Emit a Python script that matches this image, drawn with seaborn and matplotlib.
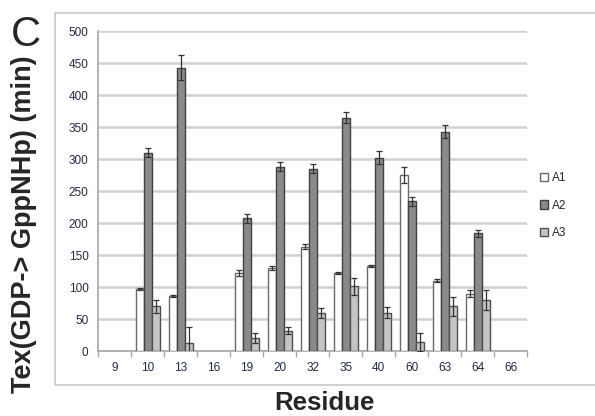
import numpy as np
import pandas as pd
import seaborn as sns
from matplotlib import pyplot as plt
from matplotlib.patches import Rectangle

sns.set_theme(style="white")
plt.rcParams['font.family'] = ['Liberation Sans', 'DejaVu Sans']

# residues shown on the axis (9, 16, 66 have no data)
residues = ['9', '10', '13', '16', '19', '20', '32', '35', '40', '60', '63', '64', '66']
measured = ['10', '13', '19', '20', '32', '35', '40', '60', '63', '64']

a1 = [97, 86, 122, 130, 163, 122, 133, 275, 110, 90]
a2 = [310, 443, 208, 288, 285, 365, 302, 234, 343, 184]
a3 = [70, 12, 20, 32, 60, 101, 60, 14, 70, 80]

a1_err = [2, 2, 5, 3, 4, 2, 2, 12, 2, 5]
a2_err = [7, 20, 7, 7, 7, 8, 10, 7, 10, 6]
a3_err = [10, 25, 8, 5, 8, 14, 9, 14, 15, 15]

series = ['A1', 'A2', 'A3']
colors = ['#ffffff', '#8a8a8a', '#c4c4c4']
edges = ['#6a6a6a', '#404040', '#505050']
tick_color = '#1f2a48'

df = pd.DataFrame({
    'Residue': measured * 3,
    'Tex': a1 + a2 + a3,
    'Series': ['A1'] * 10 + ['A2'] * 10 + ['A3'] * 10,
})
errs = [a1_err, a2_err, a3_err]

fig = plt.figure(figsize=(5.95, 4.16), dpi=100)
ax = fig.add_axes([0.165, 0.156, 0.721, 0.769])

sns.barplot(data=df, x='Residue', y='Tex', hue='Series', order=residues,
            hue_order=series, palette=colors, errorbar=None, width=0.72,
            linewidth=1.0, ax=ax, zorder=3)

bar_groups = list(ax.containers)
for i, cont in enumerate(bar_groups):
    xs, ys = [], []
    for bar in cont:
        bar.set_edgecolor(edges[i])
        xs.append(bar.get_x() + bar.get_width() / 2)
        ys.append(bar.get_height())
    ax.errorbar(xs, ys, yerr=errs[i], fmt='none', ecolor='#333333',
                elinewidth=0.9, capsize=2.5, capthick=0.9, zorder=4)

ax.set_ylim(0, 500)
ax.set_yticks(range(0, 501, 50))
ax.yaxis.grid(True, color='#d0d0d0', linewidth=1.8, zorder=0)
ax.set_axisbelow(True)
for s in ['top', 'right']:
    ax.spines[s].set_visible(False)
ax.spines['left'].set_color('#aaaaaa')
ax.spines['bottom'].set_color('#aaaaaa')
ax.tick_params(axis='y', length=0, labelsize=8.5, pad=7, labelcolor=tick_color)
ax.tick_params(axis='x', length=0, labelsize=8.5, pad=8, labelcolor=tick_color)
# minor ticks between categories, Excel style
ax.set_xticks(np.arange(-0.5, len(residues), 1.0), minor=True)
ax.tick_params(axis='x', which='minor', length=4, color='#aaaaaa', direction='out', bottom=True)
ax.set_xlim(-0.5, len(residues) - 0.5)

ax.set_xlabel('Residue', fontsize=18.5, fontweight='bold')
ax.xaxis.set_label_coords(0.527, -0.124)
ax.set_ylabel('Tex(GDP-> GppNHp) (min)', fontsize=19.5, fontweight='bold')
ax.yaxis.set_label_coords(-0.142, 0.398)

leg = ax.legend(loc='center left', bbox_to_anchor=(1.005, 0.455), frameon=False,
                fontsize=8.5, handlelength=0.7, handleheight=0.7,
                handletextpad=0.3, labelspacing=1.3)
for h, e in zip(leg.legend_handles, edges):
    h.set_edgecolor(e)

fig.patches.append(Rectangle((0.093, 0.0745), 0.95, 0.894, transform=fig.transFigure,
                             fill=False, edgecolor='#c8c8c8', linewidth=1.2))
fig.text(0.018, 0.89, 'C', fontsize=30)

fig.savefig('out.png', dpi=100)
